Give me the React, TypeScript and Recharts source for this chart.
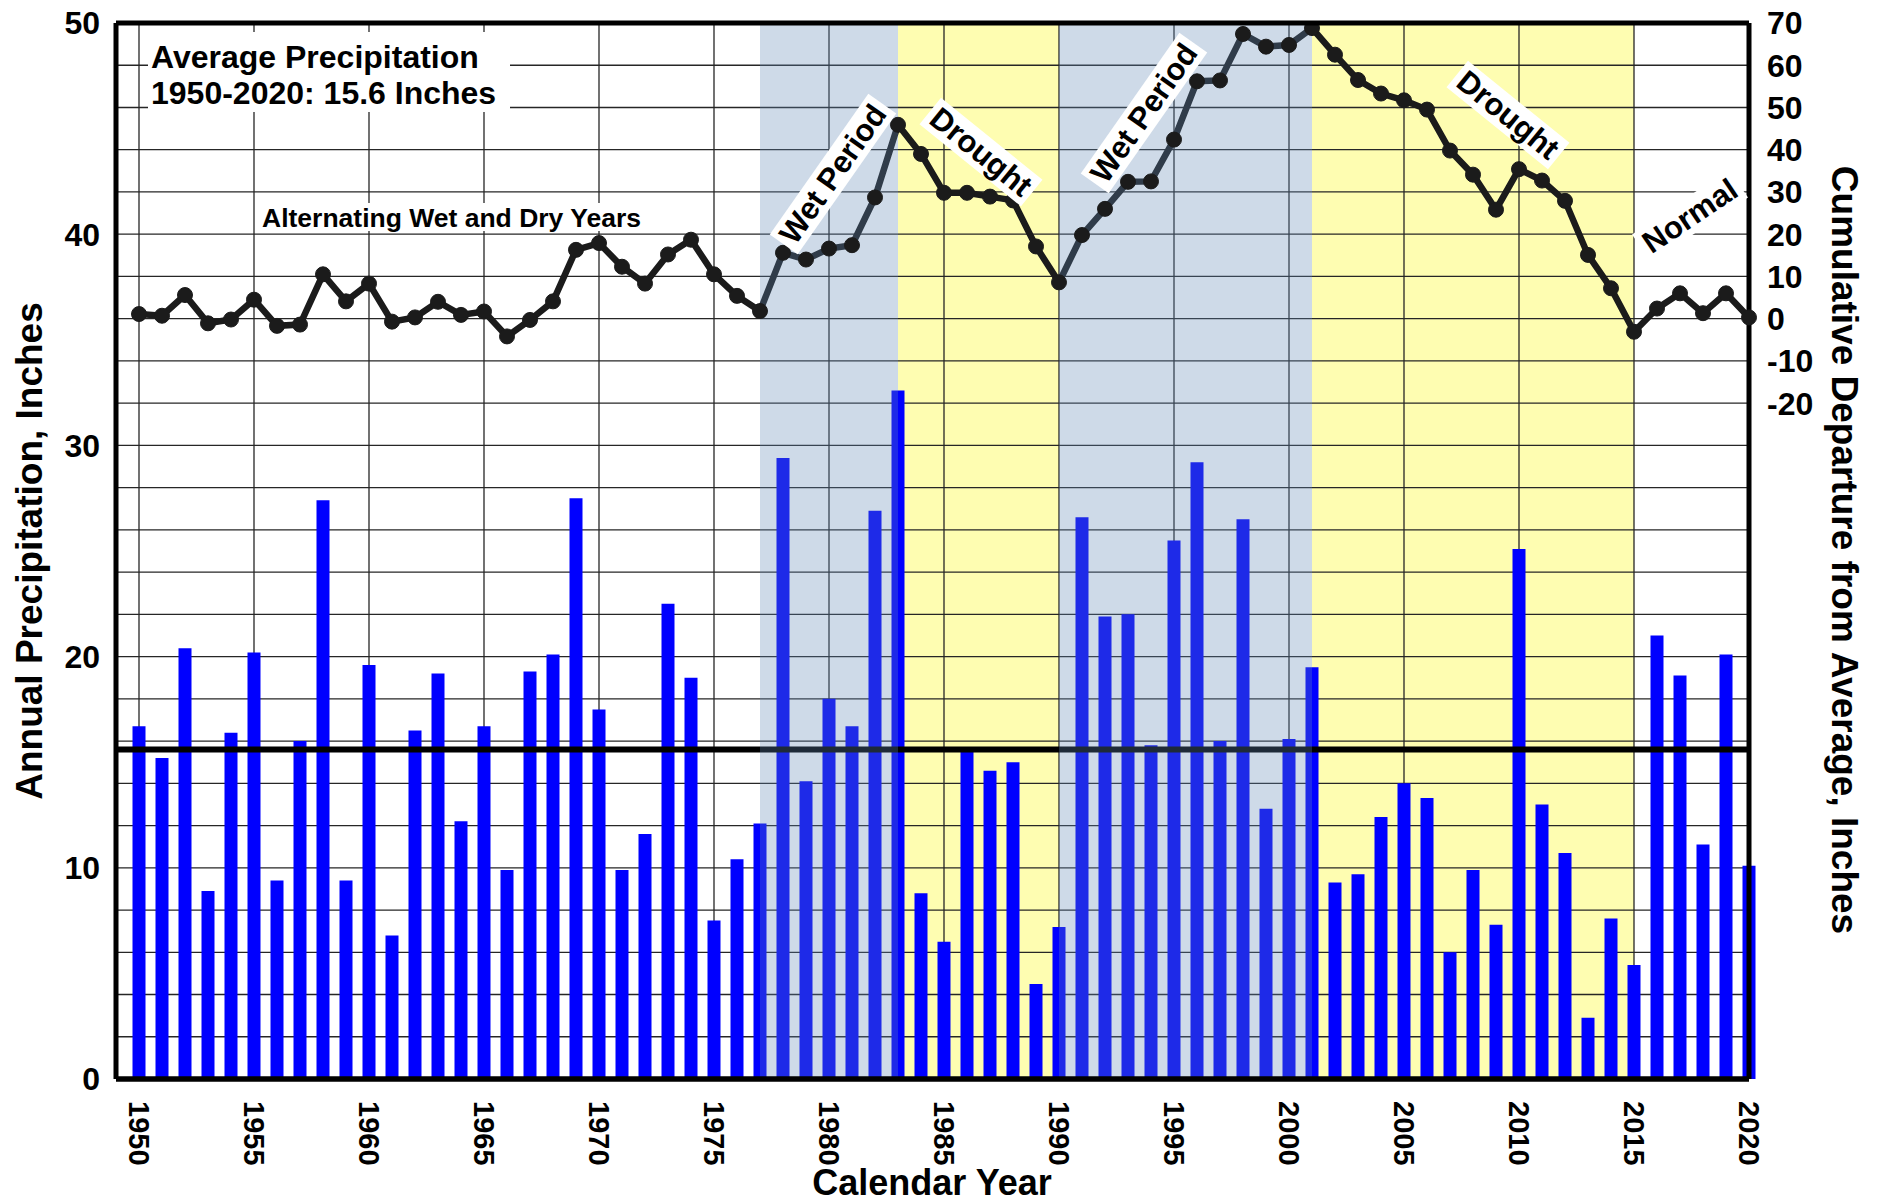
import React from 'react';
import {
  ComposedChart,
  Bar,
  Line,
  XAxis,
  YAxis,
  CartesianGrid,
  ReferenceArea,
  ReferenceLine,
} from 'recharts';

const FONT = '"Liberation Sans", Arial, Helvetica, sans-serif';

const years = [
  1950, 1951, 1952, 1953, 1954, 1955, 1956, 1957, 1958, 1959,
  1960, 1961, 1962, 1963, 1964, 1965, 1966, 1967, 1968, 1969,
  1970, 1971, 1972, 1973, 1974, 1975, 1976, 1977, 1978, 1979,
  1980, 1981, 1982, 1983, 1984, 1985, 1986, 1987, 1988, 1989,
  1990, 1991, 1992, 1993, 1994, 1995, 1996, 1997, 1998, 1999,
  2000, 2001, 2002, 2003, 2004, 2005, 2006, 2007, 2008, 2009,
  2010, 2011, 2012, 2013, 2014, 2015, 2016, 2017, 2018, 2019,
  2020,
];

// Annual precipitation, inches (left axis)
const annualPrecip = [
  16.7, 15.2, 20.4, 8.9, 16.4, 20.2, 9.4, 16.0, 27.4, 9.4,
  19.6, 6.8, 16.5, 19.2, 12.2, 16.7, 9.9, 19.3, 20.1, 27.5,
  17.5, 9.9, 11.6, 22.5, 19.0, 7.5, 10.4, 12.1, 29.4, 14.1,
  18.0, 16.7, 26.9, 32.6, 8.8, 6.5, 15.5, 14.6, 15.0, 4.5,
  7.2, 26.6, 21.9, 22.0, 15.8, 25.5, 29.2, 16.0, 26.5, 12.8,
  16.1, 19.5, 9.3, 9.7, 12.4, 14.0, 13.3, 6.0, 9.9, 7.3,
  25.1, 13.0, 10.7, 2.9, 7.6, 5.4, 21.0, 19.1, 11.1, 20.1,
  10.1,
];

// Cumulative departure from average, inches (right axis)
const cumulativeDeparture = [
  1.1, 0.7, 5.6, -1.1, -0.2, 4.5, -1.7, -1.4, 10.5, 4.1,
  8.3, -0.7, 0.3, 4.0, 0.9, 1.7, -4.2, -0.3, 4.1, 16.3,
  17.9, 12.3, 8.3, 15.2, 18.7, 10.5, 5.4, 1.8, 15.6, 14.0,
  16.6, 17.4, 28.7, 45.9, 39.0, 29.8, 29.8, 28.9, 28.0, 17.1,
  8.6, 19.8, 26.0, 32.4, 32.5, 42.4, 56.2, 56.4, 67.4, 64.4,
  64.8, 68.8, 62.5, 56.5, 53.3, 51.7, 49.5, 39.8, 34.1, 25.8,
  35.4, 32.7, 27.9, 15.1, 7.2, -3.1, 2.4, 6.0, 1.3, 6.0,
  0.3,
];

const averagePrecip = 15.6;

const leftTicks = [0, 2, 4, 6, 8, 10, 12, 14, 16, 18, 20, 22, 24, 26, 28, 30, 32, 34, 36, 38, 40, 42, 44, 46, 48, 50];
const rightTicks = [-20, -10, 0, 10, 20, 30, 40, 50, 60, 70];
const yearTicks = [1950, 1955, 1960, 1965, 1970, 1975, 1980, 1985, 1990, 1995, 2000, 2005, 2010, 2015, 2020];

const periodStart = [1977, 1983, 1990, 2001];
const periodEnd = [1983, 1990, 2001, 2015];
const periodType = ['wet', 'drought', 'wet', 'drought'];

const data = years.map((year, i) => ({
  year,
  precip: annualPrecip[i],
  cum: cumulativeDeparture[i],
}));

const XTick = (props: any) => {
  const { x, y, payload } = props;
  const y0 = y + 14;
  return (
    <text
      x={x}
      y={y0}
      transform={`rotate(90, ${x}, ${y0})`}
      dy="0.36em"
      textAnchor="start"
      fontFamily={FONT}
      fontWeight={700}
      fontSize={29}
      fill="#000"
    >
      {payload.value}
    </text>
  );
};

const Tag = ({ cx, cy, angle, text, size, em }: any) => {
  const w = em * size + 10;
  const h = size * 1.1;
  return (
    <g transform={`translate(${cx},${cy}) rotate(${angle})`}>
      <rect x={-w / 2} y={-h / 2} width={w} height={h} fill="#fff" />
      <text
        x={0}
        y={0}
        textAnchor="middle"
        dominantBaseline="central"
        fontFamily={FONT}
        fontWeight={700}
        fontSize={size}
        fill="#000"
      >
        {text}
      </text>
    </g>
  );
};

export default function App() {
  return (
    <div style={{ position: 'absolute', left: 0, top: 0, width: 1885, height: 1204, background: '#fff' }}>
      <ComposedChart
        width={1885}
        height={1204}
        data={data}
        margin={{ top: 23, right: 0, bottom: 0, left: 0 }}
      >
        {periodType.map((t, i) =>
          t === 'drought' ? (
            <ReferenceArea
              key={`d${i}`}
              x1={periodStart[i]}
              x2={periodEnd[i]}
              fill="#FEFDB1"
              fillOpacity={1}
              stroke="none"
              zIndex={-200}
              ifOverflow="visible"
            />
          ) : null
        )}
        <CartesianGrid stroke="#262626" strokeWidth={1.3} />
        <XAxis
          dataKey="year"
          type="number"
          domain={[1949, 2020]}
          ticks={yearTicks}
          interval={0}
          height={125}
          tickLine={false}
          axisLine={{ stroke: '#000', strokeWidth: 5.5 }}
          tick={<XTick />}
        />
        <YAxis
          type="number"
          domain={[0, 50]}
          ticks={leftTicks}
          interval={0}
          width={116}
          tickLine={false}
          tickMargin={10}
          tickFormatter={(v: number) => (v % 10 === 0 ? String(v) : '')}
          axisLine={{ stroke: '#000', strokeWidth: 5 }}
          tick={{ fontSize: 32, fontWeight: 700, fill: '#000', fontFamily: FONT }}
          allowDataOverflow
        />
        <YAxis
          yAxisId="r"
          orientation="right"
          type="number"
          domain={[-180, 70]}
          ticks={rightTicks}
          interval={0}
          width={136}
          tickLine={false}
          tickMargin={12}
          axisLine={{ stroke: '#000', strokeWidth: 5 }}
          tick={{ fontSize: 32, fontWeight: 700, fill: '#000', fontFamily: FONT, textAnchor: 'start' }}
          allowDataOverflow
        />
        <Bar dataKey="precip" fill="#0000FF" barSize={13} isAnimationActive={false} />
        <Line
          yAxisId="r"
          dataKey="cum"
          type="linear"
          stroke="#1b1b1b"
          strokeWidth={6.5}
          dot={{ r: 7.5, fill: '#1b1b1b', stroke: '#1b1b1b', strokeWidth: 1 }}
          activeDot={false}
          isAnimationActive={false}
        />
        <ReferenceLine y={averagePrecip} stroke="#000" strokeWidth={6} zIndex={420} />
        {periodType.map((t, i) =>
          t === 'wet' ? (
            <ReferenceArea
              key={`w${i}`}
              x1={periodStart[i]}
              x2={periodEnd[i]}
              fill="rgb(98,137,181)"
              fillOpacity={0.31}
              stroke="none"
              zIndex={450}
              ifOverflow="visible"
            />
          ) : null
        )}
        <ReferenceLine y={50} stroke="#000" strokeWidth={5} zIndex={600} />
      </ComposedChart>
      <svg
        width={1885}
        height={1204}
        style={{ position: 'absolute', left: 0, top: 0, pointerEvents: 'none' }}
      >
        <rect x={148} y={32} width={362} height={80} fill="#fff" />
        <text x={151} y={68} fontFamily={FONT} fontWeight={700} fontSize={32} fill="#000">
          Average Precipitation
        </text>
        <text x={151} y={104} fontFamily={FONT} fontWeight={700} fontSize={32} fill="#000">
          1950-2020: 15.6 Inches
        </text>
        <rect x={256} y={203} width={396} height={28} fill="#fff" />
        <text x={262} y={227} fontFamily={FONT} fontWeight={700} fontSize={26.5} fill="#000">
          Alternating Wet and Dry Years
        </text>
        <Tag cx={833} cy={174} angle={-55} text="Wet Period" size={31} em={5.22} />
        <Tag cx={981} cy={152} angle={39} text="Drought" size={31} em={3.89} />
        <Tag cx={1144} cy={113} angle={-55} text="Wet Period" size={31} em={5.22} />
        <Tag cx={1508} cy={115} angle={39} text="Drought" size={31} em={3.89} />
        <Tag cx={1690} cy={216} angle={-34} text="Normal" size={31} em={3.445} />
        <text
          transform="translate(29,551) rotate(-90)"
          textAnchor="middle"
          dominantBaseline="central"
          fontFamily={FONT}
          fontWeight={700}
          fontSize={37}
          fill="#000"
        >
          Annual Precipitation, Inches
        </text>
        <text
          transform="translate(1844,550) rotate(90)"
          textAnchor="middle"
          dominantBaseline="central"
          fontFamily={FONT}
          fontWeight={700}
          fontSize={37}
          fill="#000"
        >
          Cumulative Departure from Average, Inches
        </text>
        <text
          x={932}
          y={1195}
          textAnchor="middle"
          fontFamily={FONT}
          fontWeight={700}
          fontSize={36}
          fill="#000"
        >
          Calendar Year
        </text>
      </svg>
    </div>
  );
}
